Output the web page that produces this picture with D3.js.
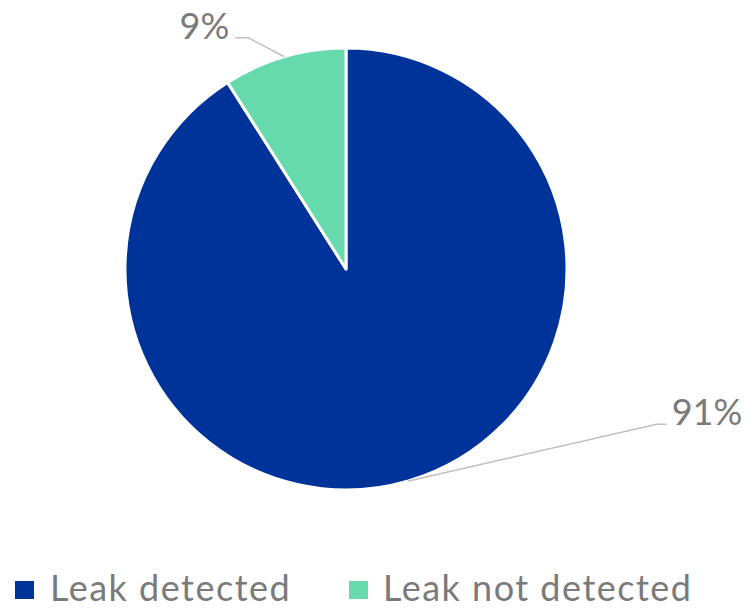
<!DOCTYPE html>
<html>
<head>
<meta charset="utf-8">
<script src="https://cdn.jsdelivr.net/npm/d3@7"></script>
<style>
  html, body { margin: 0; padding: 0; background: #fff; }
  svg text { font-family: Lato, "Open Sans", sans-serif; fill: #7a7a7a; }
</style>
</head>
<body>
<svg id="chart" width="752" height="609"></svg>
<script>
// Share of tests by outcome
const categories = ["Leak detected", "Leak not detected"];
const values = [91, 9];
const colors = ["#003399", "#66D9AD"];

const svg = d3.select("#chart");
const cx = 346, cy = 269, radius = 221;

const pie = d3.pie().sort(null).value(d => d)
  .startAngle(0).endAngle(2 * Math.PI);
const arcs = pie(values);
const arc = d3.arc().innerRadius(0).outerRadius(radius);

const g = svg.append("g").attr("transform", `translate(${cx},${cy})`);

g.selectAll("path.slice")
  .data(arcs)
  .join("path")
  .attr("class", "slice")
  .attr("d", arc)
  .attr("fill", (d, i) => colors[i])
  .attr("stroke", "#fff")
  .attr("stroke-width", 3)
  .attr("stroke-linejoin", "round");

// Callout lines: from slice edge to an elbow, then a short horizontal run
const callouts = [
  { dx: 249, dy: -57, run: 10, anchor: "start" },
  { dx: -36, dy: -19, run: -13, anchor: "end" }
];

arcs.forEach((d, i) => {
  const mid = (d.startAngle + d.endAngle) / 2;
  const ex = Math.sin(mid) * radius;
  const ey = -Math.cos(mid) * radius;
  const c = callouts[i];
  const bx = ex + c.dx, by = ey + c.dy;
  const tx = bx + c.run;
  g.append("polyline")
    .attr("points", `${ex},${ey} ${bx},${by} ${tx},${by}`)
    .attr("fill", "none")
    .attr("stroke", "#bfbfbf")
    .attr("stroke-width", 1.5);
  g.append("text")
    .attr("x", tx + (c.anchor === "start" ? 5 : -6))
    .attr("y", by + 1)
    .attr("text-anchor", c.anchor)
    .attr("font-size", 36)
    .text(d.data + "%");
});

// Legend
const legendItems = [
  { x: 15, tx: 50 },
  { x: 349, tx: 383 }
];
const legend = svg.append("g");
categories.forEach((name, i) => {
  legend.append("rect")
    .attr("x", legendItems[i].x)
    .attr("y", 581)
    .attr("width", 19)
    .attr("height", 18)
    .attr("fill", colors[i]);
  legend.append("text")
    .attr("x", legendItems[i].tx)
    .attr("y", 601)
    .attr("font-size", 36)
    .attr("letter-spacing", 1.5)
    .text(name);
});
</script>
</body>
</html>
